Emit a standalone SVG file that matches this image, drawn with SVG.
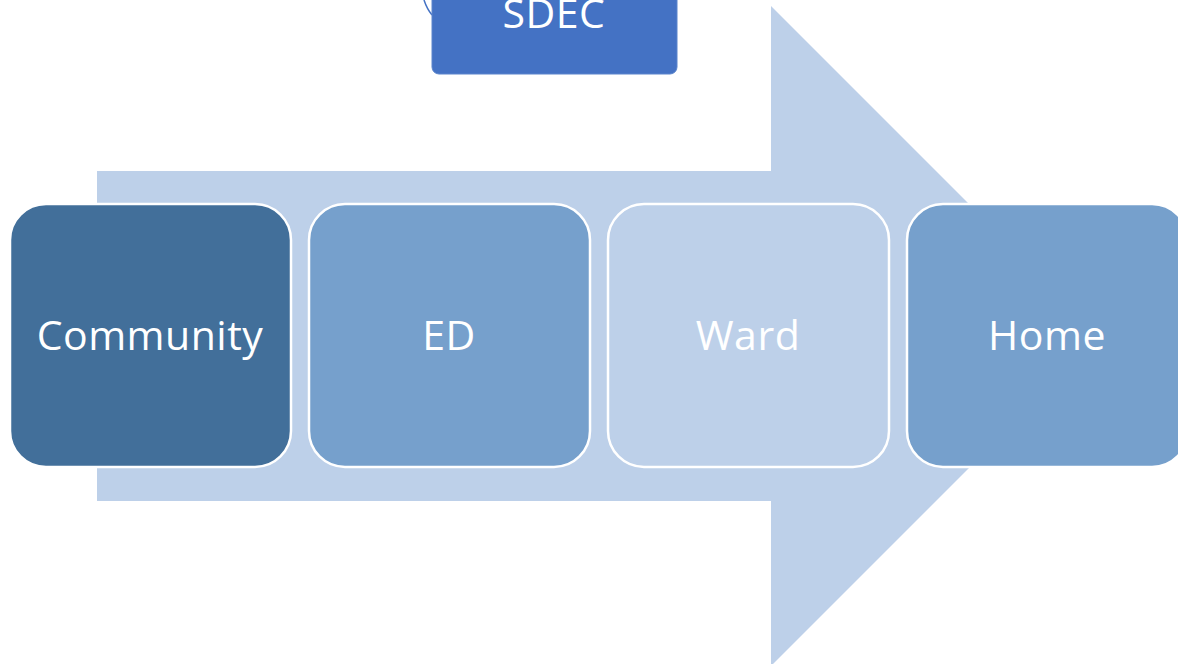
<svg xmlns="http://www.w3.org/2000/svg" width="1178" height="664" viewBox="0 0 1178 664">
<style>
.box{stroke:#ffffff;stroke-width:2.5}
.lbl{font-family:"Open Sans","Liberation Sans",sans-serif;font-size:41px;fill:#ffffff;text-anchor:middle;letter-spacing:0.5px}
</style>
<rect width="1178" height="664" fill="#ffffff"/>
<g id="arrow">
<polygon points="97,171 771,171 771,6 1101,336 771,666 771,501 97,501" fill="#BDD0E9"/>
</g>
<g id="connectors">
<path d="M424,0 Q427,9 432,15" fill="none" stroke="#4472C4" stroke-width="1.5"/>
</g>
<g id="sdec">
<rect x="432" y="-20" width="245" height="94" rx="7" fill="#4472C4" stroke="#5A84CC" stroke-width="1"/>
<text class="lbl" x="554" y="28" font-size="40">SDEC</text>
</g>
<g id="community">
<rect class="box" x="10" y="204" width="281" height="263" rx="36" fill="#426F9A"/>
<text class="lbl" x="150" y="350">Community</text>
</g>
<g id="ed">
<rect class="box" x="309" y="204" width="281" height="263" rx="36" fill="#76A0CC"/>
<text class="lbl" x="449" y="350">ED</text>
</g>
<g id="ward">
<rect class="box" x="608" y="204" width="281" height="263" rx="36" fill="#BDD0E9"/>
<text class="lbl" x="748" y="350">Ward</text>
</g>
<g id="home">
<rect class="box" x="907" y="204" width="281" height="263" rx="36" fill="#76A0CC"/>
<text class="lbl" x="1047" y="350">Home</text>
</g>
</svg>
